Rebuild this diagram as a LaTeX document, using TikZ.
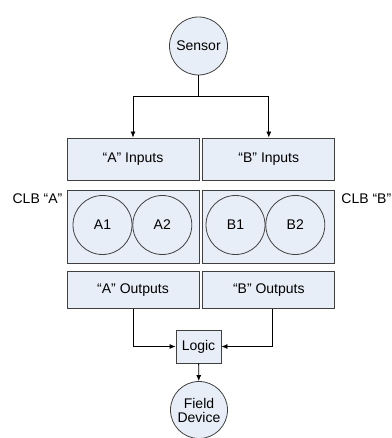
\documentclass[tikz,border=0pt]{standalone}
\usepackage{fontspec}
\setmainfont{Liberation Sans}
\usetikzlibrary{positioning,calc,arrows.meta}

\definecolor{boxfill}{HTML}{E8EEF8}
\definecolor{boxline}{HTML}{404040}

\tikzset{
	blk/.style={draw=boxline,fill=boxfill,line width=0.8pt,inner sep=0pt,font=\fontsize{14}{16}\selectfont},
	unit/.style={blk,circle,minimum size=58pt,align=center},
	port/.style={blk,minimum width=132pt,minimum height=42pt},
	outport/.style={port,minimum height=37pt},
	clb/.style={port,minimum height=73pt},
	lbl/.style={inner sep=0pt,font=\fontsize{14}{16}\selectfont}
}

\begin{document}
\begin{tikzpicture}[x=1pt,y=1pt,>={Latex[length=6pt,width=5pt]},node distance=3pt]

\useasboundingbox (0,0) rectangle (391,-438);

\node[unit] (sensor) at (198.5,-46) {Sensor};

\node[port] (ain) at (133,-159) {“A” Inputs};
\node[port] (bin) [right=of ain] {“B” Inputs};

\node[clb] (clba) [below=10pt of ain] {};
\node[clb] (clbb) [below=10pt of bin] {};

\node[unit,minimum size=59pt] (a1) at (102.5,-225) {A1};
\node[unit,minimum size=59pt,fill=none] (a2) [right=0pt of a1] {A2};
\node[unit,minimum size=59pt] (b1) at (235.5,-225) {B1};
\node[unit,minimum size=59pt,fill=none] (b2) [right=0pt of b1] {B2};

\node[lbl,anchor=north east] (clbal) at ($(clba.north west)+(-4,-3)$) {CLB “A”};
\node[lbl,anchor=north west] (clbbl) at ($(clbb.north east)+(6,-3)$) {CLB “B”};

\node[outport] (aout) [below=7pt of clba] {“A” Outputs};
\node[outport] (bout) [below=7pt of clbb] {“B” Outputs};

\node[blk,minimum width=45pt,minimum height=33pt] (logic) at (198.5,-346.5) {Logic};
\node[unit,minimum size=57pt,align=center] (field) at (199,-410) {Field\\[-2pt]Device};

\coordinate[below=21pt of sensor] (fork);

\draw[line width=0.8pt] (sensor) -- (fork);
\draw[->,line width=0.8pt] (fork) -| (ain);
\draw[->,line width=0.8pt] (fork) -| (bin);

\draw[->,line width=0.8pt] (aout) |- (logic);
\draw[->,line width=0.8pt] ($(bout.south)+(3.5,0)$) |- (logic);
\draw[->,line width=0.8pt] (logic) -- (field);

\end{tikzpicture}
\end{document}
